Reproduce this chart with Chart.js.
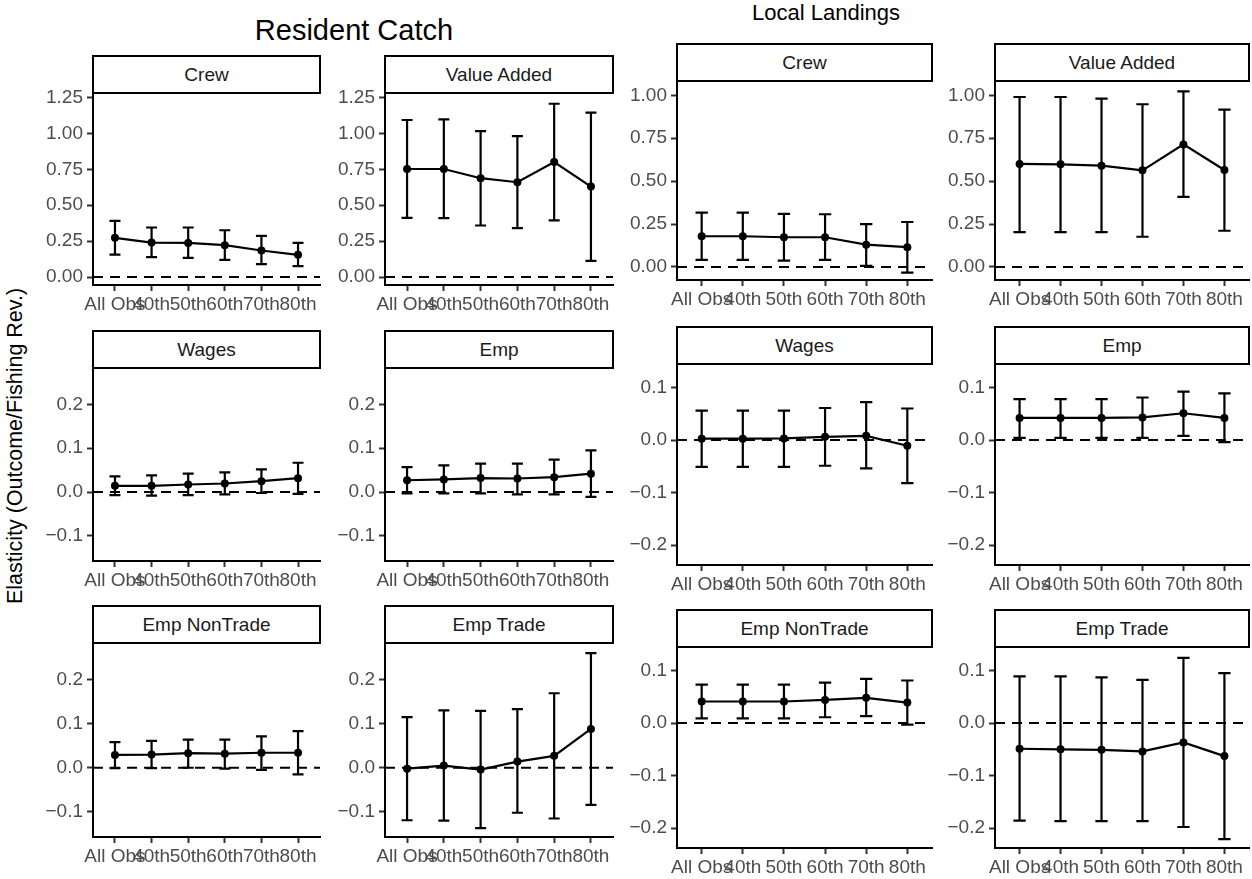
<!DOCTYPE html>
<html>
<head>
<meta charset="utf-8">
<script src="https://cdn.jsdelivr.net/npm/chart.js@4"></script>
<style>
  body { margin: 0; background: #fff; width: 1252px; height: 879px; position: relative; overflow: hidden; font-family: "Liberation Sans", Arial, sans-serif; }
  canvas { position: absolute; }
  .strip { position: absolute; box-sizing: border-box; border: 2px solid #000; background: #fff; color: #1a1a1a; font-size: 19px; display: flex; align-items: center; justify-content: center; }
  .title { position: absolute; color: #000; white-space: nowrap; transform: translateX(-50%); }
  .ylab { position: absolute; font-size: 21.5px; line-height: 22px; color: #000; white-space: nowrap; transform: translate(-50%, -50%) rotate(-90deg); }
</style>
</head>
<body>
<div class="title" style="left:354px; top:16px; font-size:29px; line-height:29px;">Resident Catch</div>
<div class="title" style="left:826px; top:2px; font-size:22px; line-height:22px;">Local Landings</div>
<div class="ylab" style="left:15px; top:446px;">Elasticity (Outcome/Fishing Rev.)</div>
<script>
const categories = ['All Obs', '40th', '50th', '60th', '70th', '80th'];
const outcomes = ['Crew', 'Value Added', 'Wages', 'Emp', 'Emp NonTrade', 'Emp Trade'];

// Resident Catch
const rcCrewEst = [0.273, 0.240, 0.238, 0.222, 0.185, 0.155];
const rcCrewLo = [0.157, 0.139, 0.134, 0.120, 0.090, 0.076];
const rcCrewHi = [0.391, 0.345, 0.345, 0.326, 0.287, 0.238];
const rcValueEst = [0.752, 0.752, 0.688, 0.660, 0.801, 0.630];
const rcValueLo = [0.412, 0.410, 0.359, 0.340, 0.394, 0.113];
const rcValueHi = [1.093, 1.097, 1.016, 0.981, 1.206, 1.144];
const rcWagesEst = [0.0144, 0.0144, 0.0174, 0.0197, 0.025, 0.0318];
const rcWagesLo = [-0.007, -0.008, -0.007, -0.005, -0.002, -0.004];
const rcWagesHi = [0.036, 0.038, 0.042, 0.045, 0.052, 0.067];
const rcEmpEst = [0.027, 0.029, 0.032, 0.031, 0.034, 0.042];
const rcEmpLo = [-0.003, -0.003, -0.003, -0.005, -0.005, -0.011];
const rcEmpHi = [0.057, 0.061, 0.065, 0.065, 0.074, 0.095];
const rcNonTradeEst = [0.029, 0.030, 0.033, 0.032, 0.034, 0.034];
const rcNonTradeLo = [-0.001, -0.001, 0.0, -0.002, -0.005, -0.015];
const rcNonTradeHi = [0.058, 0.061, 0.064, 0.064, 0.071, 0.083];
const rcTradeEst = [-0.002, 0.005, -0.004, 0.014, 0.027, 0.088];
const rcTradeLo = [-0.119, -0.120, -0.137, -0.102, -0.115, -0.084];
const rcTradeHi = [0.115, 0.130, 0.129, 0.133, 0.169, 0.260];

// Local Landings
const llCrewEst = [0.179, 0.179, 0.173, 0.173, 0.130, 0.115];
const llCrewLo = [0.041, 0.041, 0.037, 0.041, 0.006, -0.033];
const llCrewHi = [0.317, 0.317, 0.309, 0.307, 0.250, 0.262];
const llValueEst = [0.600, 0.598, 0.590, 0.563, 0.714, 0.565];
const llValueLo = [0.203, 0.203, 0.203, 0.176, 0.408, 0.211];
const llValueHi = [0.990, 0.990, 0.981, 0.948, 1.023, 0.917];
const llWagesEst = [0.0025, 0.0025, 0.003, 0.006, 0.008, -0.011];
const llWagesLo = [-0.051, -0.051, -0.051, -0.049, -0.054, -0.082];
const llWagesHi = [0.056, 0.056, 0.056, 0.061, 0.072, 0.060];
const llEmpEst = [0.042, 0.042, 0.042, 0.043, 0.051, 0.042];
const llEmpLo = [0.004, 0.004, 0.004, 0.004, 0.008, -0.004];
const llEmpHi = [0.078, 0.078, 0.078, 0.081, 0.092, 0.089];
const llNonTradeEst = [0.041, 0.041, 0.041, 0.044, 0.048, 0.039];
const llNonTradeLo = [0.009, 0.009, 0.009, 0.011, 0.013, -0.003];
const llNonTradeHi = [0.073, 0.073, 0.073, 0.077, 0.084, 0.081];
const llTradeEst = [-0.049, -0.050, -0.051, -0.054, -0.037, -0.063];
const llTradeLo = [-0.186, -0.187, -0.187, -0.187, -0.198, -0.221];
const llTradeHi = [0.089, 0.089, 0.087, 0.082, 0.124, 0.095];

// tick labels
const rcTopTicks = [0, 0.25, 0.5, 0.75, 1.0, 1.25];
const rcLowTicks = [-0.1, 0, 0.1, 0.2];
const llTopTicks = [0, 0.25, 0.5, 0.75, 1.0];
const llLowTicks = [-0.2, -0.1, 0, 0.1];

// y ranges per panel row group
const rcTop = { yMin: -0.055, yMax: 1.278, ticks: rcTopTicks, dec: 2 };
const rcLow = { yMin: -0.157, yMax: 0.282, ticks: rcLowTicks, dec: 1 };
const llTop = { yMin: -0.076, yMax: 1.081, ticks: llTopTicks, dec: 2 };
const llLow = { yMin: -0.238, yMax: 0.144, ticks: llLowTicks, dec: 1 };

// plot rect of each panel in page pixels
const panels = [
    { name: outcomes[0], est: rcCrewEst, lo: rcCrewLo, hi: rcCrewHi, L: 93, R: 320, T: 93, B: 285, scale: rcTop },
    { name: outcomes[1], est: rcValueEst, lo: rcValueLo, hi: rcValueHi, L: 385, R: 613, T: 93, B: 285, scale: rcTop },
    { name: outcomes[2], est: rcWagesEst, lo: rcWagesLo, hi: rcWagesHi, L: 93, R: 320, T: 368, B: 561, scale: rcLow },
    { name: outcomes[3], est: rcEmpEst, lo: rcEmpLo, hi: rcEmpHi, L: 385, R: 613, T: 368, B: 561, scale: rcLow },
    { name: outcomes[4], est: rcNonTradeEst, lo: rcNonTradeLo, hi: rcNonTradeHi, L: 93, R: 320, T: 643, B: 837, scale: rcLow },
    { name: outcomes[5], est: rcTradeEst, lo: rcTradeLo, hi: rcTradeHi, L: 385, R: 613, T: 643, B: 837, scale: rcLow },
    { name: outcomes[0], est: llCrewEst, lo: llCrewLo, hi: llCrewHi, L: 677, R: 932, T: 81, B: 280, scale: llTop },
    { name: outcomes[1], est: llValueEst, lo: llValueLo, hi: llValueHi, L: 995, R: 1249, T: 81, B: 280, scale: llTop },
    { name: outcomes[2], est: llWagesEst, lo: llWagesLo, hi: llWagesHi, L: 677, R: 932, T: 364, B: 565, scale: llLow },
    { name: outcomes[3], est: llEmpEst, lo: llEmpLo, hi: llEmpHi, L: 995, R: 1249, T: 364, B: 565, scale: llLow },
    { name: outcomes[4], est: llNonTradeEst, lo: llNonTradeLo, hi: llNonTradeHi, L: 677, R: 932, T: 647, B: 848, scale: llLow },
    { name: outcomes[5], est: llTradeEst, lo: llTradeLo, hi: llTradeHi, L: 995, R: 1249, T: 647, B: 848, scale: llLow }
];

const Y_AXIS_W = 70;
const X_AXIS_H = 40;
const PAD = 15;
const CAP = 0.15;

// zero line + error bars drawn through the chart's own scales
const errorBarPlugin = {
    id: 'errorBars',
    beforeDatasetsDraw(chart) {
        const ctx = chart.ctx;
        const x = chart.scales.x;
        const y = chart.scales.y;
        const area = chart.chartArea;
        const ds = chart.data.datasets[0];

        ctx.save();
        ctx.strokeStyle = '#000';
        ctx.lineWidth = 2;
        ctx.setLineDash([10, 7]);
        ctx.beginPath();
        ctx.moveTo(area.left, y.getPixelForValue(0));
        ctx.lineTo(area.right, y.getPixelForValue(0));
        ctx.stroke();

        ctx.setLineDash([]);
        ctx.lineWidth = 2.2;
        ds.errLo.forEach((lo, i) => {
            const hi = ds.errHi[i];
            const yl = y.getPixelForValue(lo);
            const yh = y.getPixelForValue(hi);
            ctx.beginPath();
            ctx.moveTo(x.getPixelForValue(i), yl);
            ctx.lineTo(x.getPixelForValue(i), yh);
            ctx.moveTo(x.getPixelForValue(i - CAP), yl);
            ctx.lineTo(x.getPixelForValue(i + CAP), yl);
            ctx.moveTo(x.getPixelForValue(i - CAP), yh);
            ctx.lineTo(x.getPixelForValue(i + CAP), yh);
            ctx.stroke();
        });
        ctx.restore();
    }
};

function fmt(v, dec) {
    return v.toFixed(dec).replace('-', '\u2212');
}

panels.forEach(p => {
    const canvas = document.createElement('canvas');
    canvas.width = (p.R - p.L) + Y_AXIS_W + PAD;
    canvas.height = (p.B - p.T) + PAD + X_AXIS_H;
    canvas.style.left = (p.L - Y_AXIS_W) + 'px';
    canvas.style.top = (p.T - PAD) + 'px';
    document.body.appendChild(canvas);

    const strip = document.createElement('div');
    strip.className = 'strip';
    strip.textContent = p.name;
    strip.style.left = (p.L - 1) + 'px';
    strip.style.width = (p.R - p.L + 2) + 'px';
    strip.style.top = (p.T - 38) + 'px';
    strip.style.height = '39px';
    document.body.appendChild(strip);

    new Chart(canvas.getContext('2d'), {
        type: 'line',
        data: {
            datasets: [{
                data: p.est.map((v, i) => ({ x: i, y: v })),
                errLo: p.lo,
                errHi: p.hi,
                borderColor: '#000',
                borderWidth: 2.2,
                pointRadius: 4,
                pointBackgroundColor: '#000',
                pointBorderWidth: 0,
                tension: 0
            }]
        },
        options: {
            responsive: false,
            animation: false,
            layout: { padding: { top: PAD, right: PAD, left: 0, bottom: 0 } },
            plugins: {
                legend: { display: false },
                tooltip: { enabled: false }
            },
            scales: {
                x: {
                    type: 'linear',
                    min: -0.6,
                    max: 5.6,
                    afterFit: s => { s.height = X_AXIS_H; },
                    afterBuildTicks: s => { s.ticks = categories.map((c, i) => ({ value: i })); },
                    ticks: {
                        autoSkip: false,
                        maxRotation: 0,
                        minRotation: 0,
                        padding: 2,
                        color: '#4d4d4d',
                        font: { family: 'Liberation Sans', size: 19 },
                        callback: v => categories[v]
                    },
                    grid: { drawOnChartArea: false, tickLength: 6, tickColor: '#333', tickWidth: 2 },
                    border: { display: true, color: '#000', width: 2 }
                },
                y: {
                    min: p.scale.yMin,
                    max: p.scale.yMax,
                    afterFit: s => { s.width = Y_AXIS_W; },
                    afterBuildTicks: s => { s.ticks = p.scale.ticks.map(v => ({ value: v })); },
                    ticks: {
                        padding: 4,
                        color: '#4d4d4d',
                        font: { family: 'Liberation Sans', size: 19 },
                        callback: v => fmt(v, p.scale.dec)
                    },
                    grid: { drawOnChartArea: false, tickLength: 6, tickColor: '#333', tickWidth: 2 },
                    border: { display: true, color: '#000', width: 2 }
                }
            }
        },
        plugins: [errorBarPlugin]
    });
});
</script>
</body>
</html>
